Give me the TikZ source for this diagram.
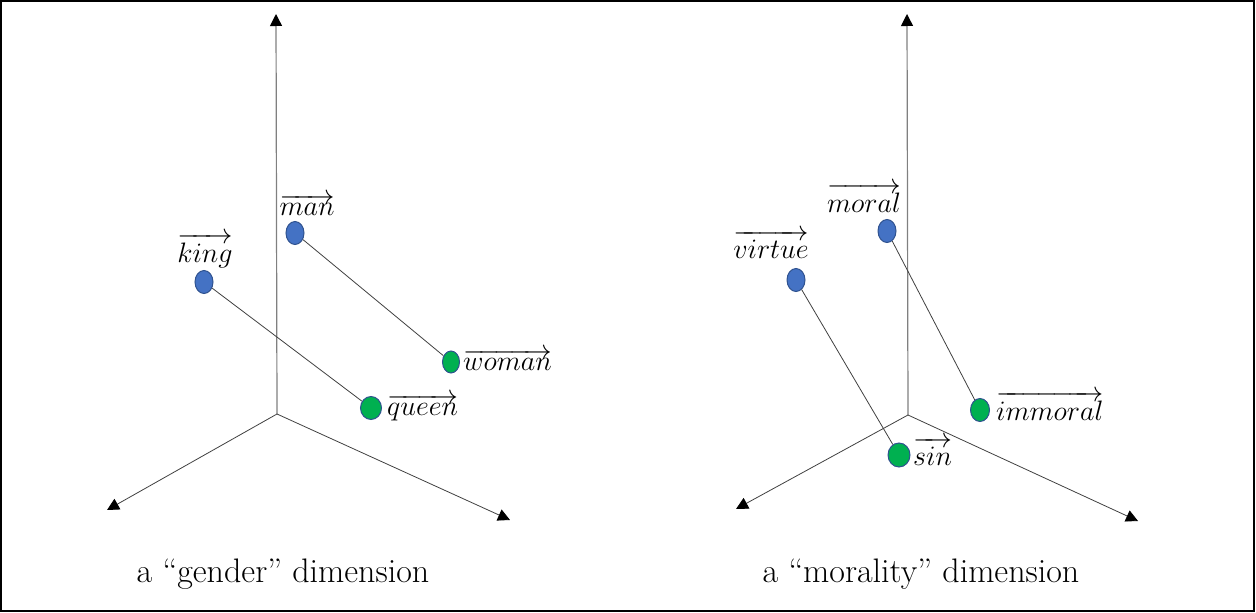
\documentclass[tikz,border=0pt]{standalone}
\usepackage{graphicx}
\usetikzlibrary{shapes.geometric,arrows.meta}
\definecolor{ptblue}{HTML}{4472C4}
\definecolor{ptgreen}{HTML}{00B050}
\definecolor{ptedge}{HTML}{2F528F}
\definecolor{axisdark}{HTML}{404040}
\definecolor{axisgray}{HTML}{808080}
\newcommand{\wvec}[1]{\scalebox{1.13}{\fontsize{24.88}{30}\selectfont$\overrightarrow{#1}$}}
\begin{document}
\begin{tikzpicture}[x=1pt,y=-1pt,
  bluept/.style={ellipse,fill=ptblue,draw=ptedge,line width=1pt,minimum width=18pt,minimum height=23pt,inner sep=0pt},
  greenpt/.style={ellipse,fill=ptgreen,draw=ptedge,line width=1pt,minimum width=19pt,minimum height=23pt,inner sep=0pt},
  wlabel/.style={inner sep=0pt},
  caption/.style={inner sep=0pt,font=\fontsize{34}{40}\selectfont},
  link/.style={draw=axisdark,line width=0.8pt},
  uaxis/.style={draw=axisgray,line width=1.2pt,-{Triangle[width=12pt,length=12pt,color=black]}},
  laxis/.style={draw=axisdark,line width=0.8pt,-{Triangle[width=12pt,length=12pt,color=black]}}
]
\useasboundingbox (0,0) rectangle (1256,613);
\draw[line width=2pt] (1,1) rectangle (1254,611);

% ---- left: gender ----
\coordinate (o1) at (277,414);
\coordinate (t1) at (276,14);
\coordinate (l1) at (107,510);
\coordinate (r1) at (510,520);
\draw[uaxis] (o1) -- (t1);
\draw[laxis] (o1) -- (l1);
\draw[laxis] (o1) -- (r1);

\node[bluept] (king) at (204,282) {};
\node[bluept] (man) at (295,233) {};
\node[greenpt,minimum width=17pt,minimum height=22pt] (woman) at (451,362) {};
\node[greenpt,minimum width=21pt] (queen) at (371,408) {};
\draw[link] (king) -- (queen);
\draw[link] (man) -- (woman);

\node[wlabel,anchor=base] (kingl) at (205,262) {\wvec{king}};
\node[wlabel,anchor=base] (manl) at (307,215) {\wvec{man}};
\node[wlabel,anchor=base west] (womanl) at (463,370) {\wvec{woman}};
\node[wlabel,anchor=base west] (queenl) at (387,415) {\wvec{queen}};

\node[caption,anchor=base] (cap1) at (283,582) {a ``gender'' dimension};

% ---- right: morality ----
\coordinate (o2) at (908,415);
\coordinate (t2) at (907,14);
\coordinate (l2) at (736,509);
\coordinate (r2) at (1138,521);
\draw[uaxis] (o2) -- (t2);
\draw[laxis] (o2) -- (l2);
\draw[laxis] (o2) -- (r2);

\node[bluept] (virtue) at (796,280) {};
\node[bluept] (moral) at (887,231) {};
\node[greenpt] (immoral) at (980,410) {};
\node[greenpt,minimum width=22pt,minimum height=24pt] (sin) at (899,455) {};
\draw[link] (virtue) -- (sin);
\draw[link] (moral) -- (immoral);

\node[wlabel,anchor=base] (virtuel) at (771,258) {\wvec{virtue}};
\node[wlabel,anchor=base] (morall) at (864,212) {\wvec{moral}};
\node[wlabel,anchor=base west] (immorall) at (996,420) {\wvec{immoral}};
\node[wlabel,anchor=base west] (sinl) at (913,465) {\wvec{sin}};

\node[caption,anchor=base] (cap2) at (921,582) {a ``morality'' dimension};
\end{tikzpicture}
\end{document}
